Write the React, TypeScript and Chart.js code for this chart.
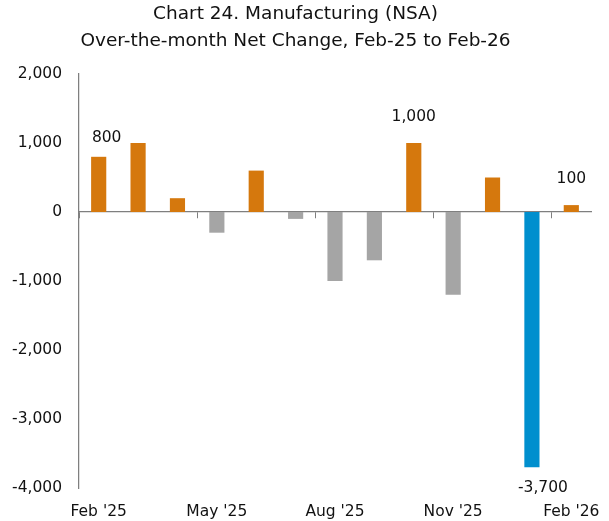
import React, { useEffect, useRef } from "react";
import { Chart, registerables } from "chart.js";

Chart.register(...registerables);

const categories = [
  "Feb '25", "Mar '25", "Apr '25", "May '25", "Jun '25", "Jul '25",
  "Aug '25", "Sep '25", "Oct '25", "Nov '25", "Dec '25", "Jan '26", "Feb '26",
];
const netChange = [800, 1000, 200, -300, 600, -100, -1000, -700, 1000, -1200, 500, -3700, 100];
const highlightCategory = "Jan '26";
const labeledCategories = ["Feb '25", "Oct '25", "Jan '26", "Feb '26"];
const titleLines = ["Chart 24. Manufacturing (NSA)", "Over-the-month Net Change, Feb-25 to Feb-26"];
const yMin = -4000;
const yMax = 2000;
const yStep = 1000;

const FONT = "'DejaVu Sans', sans-serif";
const ORANGE = "#D5780D";
const GRAY = "#A5A5A5";
const BLUE = "#008FCE";
const AXIS = "#7F7F7F";

const fmt = (v: number) => v.toLocaleString("en-US");

const valueLabelPlugin = {
  id: "valueLabels",
  afterDatasetsDraw(chart: any, _args: any, opts: any) {
    const meta = chart.getDatasetMeta(0);
    const ctx = chart.ctx;
    ctx.save();
    ctx.font = `15.5px ${FONT}`;
    ctx.fillStyle = "#111";
    ctx.textAlign = "center";
    ctx.textBaseline = "middle";
    labeledCategories.forEach((cat) => {
      const i = categories.indexOf(cat);
      const el = meta.data[i];
      const v = netChange[i];
      const o = (opts.offsets && opts.offsets[cat]) || { dx: 0, dy: 26 };
      const y = v >= 0 ? el.y - o.dy : el.y + o.dy;
      ctx.fillText(fmt(v), el.x + o.dx, y);
    });
    ctx.restore();
  },
};

export default function App() {
  const ref = useRef<HTMLCanvasElement | null>(null);

  useEffect(() => {
    if (!ref.current) return;
    const hi = categories.indexOf(highlightCategory);
    const chart = new Chart(ref.current, {
      type: "bar",
      data: {
        labels: categories,
        datasets: [
          {
            data: netChange,
            xAxisID: "x",
            yAxisID: "y",
            backgroundColor: netChange.map((v, i) => (i === hi ? BLUE : v >= 0 ? ORANGE : GRAY)),
            borderWidth: 0,
            barPercentage: 0.385,
            categoryPercentage: 1,
          },
        ],
      },
      plugins: [valueLabelPlugin],
      options: {
        animation: false,
        responsive: true,
        maintainAspectRatio: false,
        layout: { padding: { left: 0, right: 18, top: 0, bottom: 0 } },
        plugins: {
          legend: { display: false },
          tooltip: { enabled: false },
          title: {
            display: true,
            text: titleLines,
            color: "#111",
            font: { family: FONT, size: 18.5, weight: "normal", lineHeight: 27 / 18.5 },
            padding: { top: 1, bottom: 19 },
          },
          valueLabels: {
            offsets: {
              "Feb '25": { dx: 8, dy: 18.5 },
              "Oct '25": { dx: 0, dy: 26 },
              "Jan '26": { dx: 11, dy: 20.5 },
              "Feb '26": { dx: 0, dy: 26 },
            },
          },
        } as any,
        scales: {
          x: {
            type: "category",
            position: "bottom",
            grid: { display: false, drawTicks: false },
            border: { display: false },
            afterFit: (s: any) => {
              s.height = 33;
              s.paddingLeft = 0;
              s.paddingRight = 0;
            },
            ticks: {
              autoSkip: false,
              maxRotation: 0,
              minRotation: 0,
              padding: 15,
              color: "#111",
              font: { family: FONT, size: 15.5 },
              callback: (_v: any, i: number) => (i % 3 === 0 ? categories[i] : ""),
            },
          },
          x0: {
            type: "category",
            position: { y: 0 } as any,
            afterFit: (s: any) => {
              s.height = 0;
              s.paddingLeft = 0;
              s.paddingRight = 0;
            },
            grid: {
              display: true,
              offset: true,
              drawOnChartArea: false,
              drawTicks: true,
              tickLength: 6,
              lineWidth: 1,
              color: (c: any) => (c.index % 3 === 0 ? AXIS : "rgba(0,0,0,0)"),
            },
            border: { display: true, color: AXIS, width: 1.25 },
            ticks: { display: false },
          },
          y: {
            min: yMin,
            max: yMax,
            grid: { display: false, drawTicks: false },
            border: { display: true, color: AXIS, width: 1.25 },
            afterFit: (s: any) => {
              s.width = 79;
            },
            ticks: {
              stepSize: yStep,
              padding: 17,
              color: "#111",
              font: { family: FONT, size: 15.5 },
              callback: (v: any) => fmt(Number(v)),
            },
          },
        } as any,
      },
    });
    return () => chart.destroy();
  }, []);

  return (
    <div style={{ position: "fixed", left: 0, top: 0, width: 609, height: 521, background: "#fff" }}>
      <canvas ref={ref} />
    </div>
  );
}
